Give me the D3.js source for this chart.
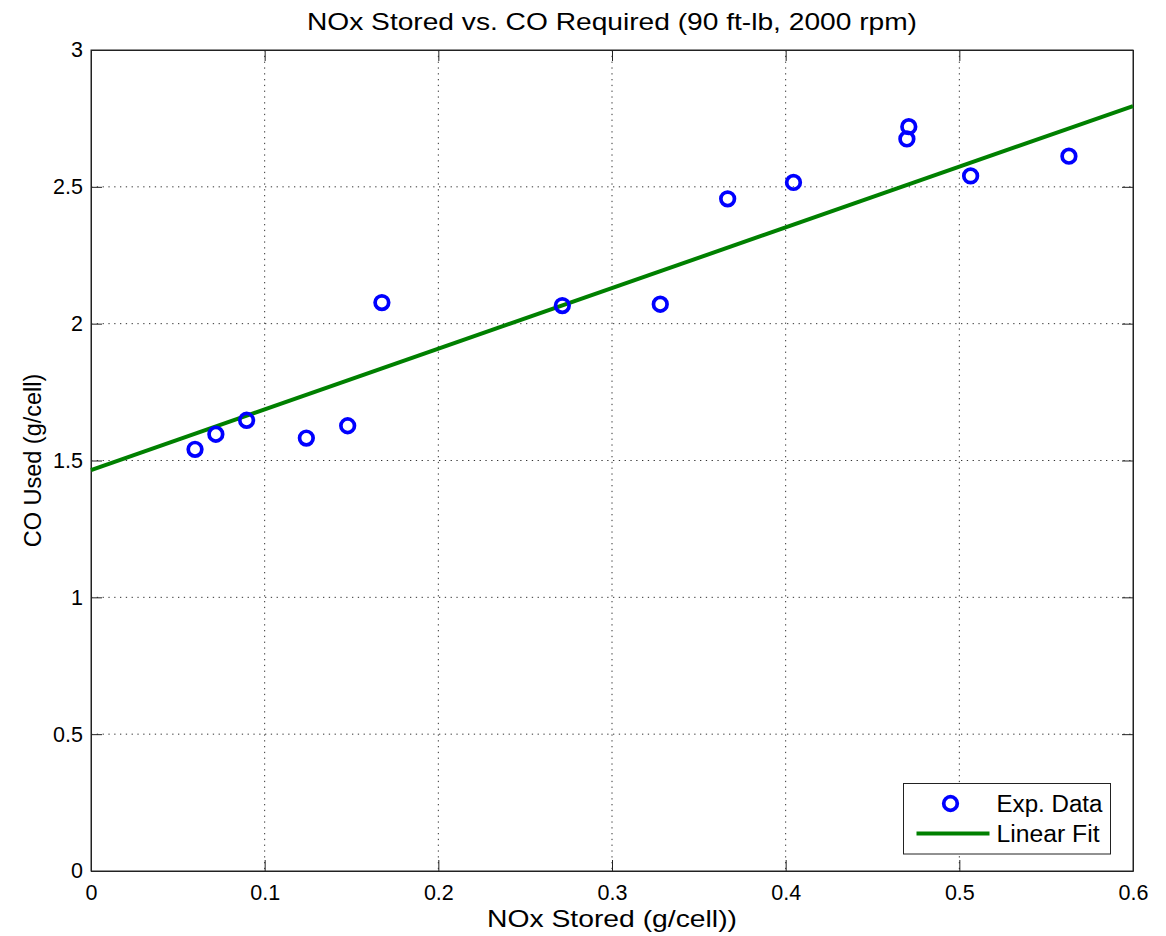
<!DOCTYPE html>
<html>
<head>
<meta charset="utf-8">
<script src="https://cdn.jsdelivr.net/npm/d3@7"></script>
<style>
  body { margin: 0; background: #fff; }
  text { font-family: "Liberation Sans", Arial, sans-serif; fill: #000; }
</style>
</head>
<body>
<div class="chart"></div>
<script>
var svgWidth = 1166;
var svgHeight = 936;

var margin = { top: 50, right: 33, bottom: 65, left: 91 };

var width = svgWidth - margin.left - margin.right;
var height = svgHeight - margin.top - margin.bottom;

// data
var noxStored = [0.0599, 0.0719, 0.0896, 0.1240, 0.1478, 0.1675, 0.2714,
                 0.3278, 0.3666, 0.4045, 0.4698, 0.4709, 0.5065, 0.5631];
var coUsed = [1.541, 1.596, 1.647, 1.582, 1.627, 2.077, 2.066,
              2.071, 2.456, 2.516, 2.675, 2.720, 2.540, 2.612];
// linear fit: CO = intercept + slope * NOx
var fitIntercept = 1.465;
var fitSlope = 2.217;
var fitRange = [0, 0.6];

var xTicks = [0, 0.1, 0.2, 0.3, 0.4, 0.5, 0.6];
var yTicks = [0, 0.5, 1, 1.5, 2, 2.5, 3];

var titleText = "NOx Stored vs. CO Required (90 ft-lb, 2000 rpm)";
var xLabelText = "NOx Stored (g/cell))";
var yLabelText = "CO Used (g/cell)";
var legendLabels = ["Exp. Data", "Linear Fit"];

var svg = d3.select(".chart")
  .append("svg")
  .attr("width", svgWidth)
  .attr("height", svgHeight);

var chartGroup = svg.append("g")
  .attr("transform", `translate(${margin.left}, ${margin.top})`);

var x = d3.scaleLinear().domain([0, 0.6]).range([0, width]);
var y = d3.scaleLinear().domain([0, 3]).range([height, 0]);

// grid lines
chartGroup.append("g")
  .selectAll("line")
  .data(xTicks.slice(1, -1))
  .enter()
  .append("line")
  .attr("x1", d => x(d)).attr("x2", d => x(d))
  .attr("y1", 0).attr("y2", height)
  .attr("stroke", "#333")
  .attr("stroke-width", 1)
  .attr("stroke-dasharray", "1.3,4.5");

chartGroup.append("g")
  .selectAll("line")
  .data(yTicks.slice(1, -1))
  .enter()
  .append("line")
  .attr("y1", d => y(d)).attr("y2", d => y(d))
  .attr("x1", 0).attr("x2", width)
  .attr("stroke", "#333")
  .attr("stroke-width", 1)
  .attr("stroke-dasharray", "1.3,4.5");

// axes, ticks inside like matlab
var bottomAxis = d3.axisBottom(x).tickValues(xTicks).tickSizeInner(-11).tickSizeOuter(0)
  .tickFormat(d3.format("~g")).tickPadding(14);
var leftAxis = d3.axisLeft(y).tickValues(yTicks).tickSizeInner(-11).tickSizeOuter(0)
  .tickFormat(d3.format("~g")).tickPadding(8);
var topAxis = d3.axisTop(x).tickValues(xTicks).tickSizeInner(-11).tickSizeOuter(0).tickFormat("");
var rightAxis = d3.axisRight(y).tickValues(yTicks).tickSizeInner(-11).tickSizeOuter(0).tickFormat("");

var xAxis = chartGroup.append("g")
  .attr("transform", `translate(0, ${height})`)
  .call(bottomAxis);
var yAxis = chartGroup.append("g").call(leftAxis);
chartGroup.append("g").call(topAxis);
chartGroup.append("g").attr("transform", `translate(${width}, 0)`).call(rightAxis);

chartGroup.selectAll(".domain").attr("stroke", "#222");
chartGroup.selectAll(".tick line").attr("stroke", "#222");
chartGroup.selectAll(".tick text")
  .style("font-family", "Liberation Sans, Arial, sans-serif")
  .style("font-size", "21.5px")
  .attr("fill", "#000");

// box
chartGroup.append("rect")
  .attr("x", 0).attr("y", 0)
  .attr("width", width).attr("height", height)
  .attr("fill", "none")
  .attr("stroke", "#222")
  .attr("stroke-width", 1);

// fit line
var fitLine = d3.line()
  .x(d => x(d))
  .y(d => y(fitIntercept + fitSlope * d));

chartGroup.append("path")
  .datum(fitRange)
  .attr("d", fitLine)
  .attr("fill", "none")
  .attr("stroke", "#008000")
  .attr("stroke-width", 4);

// data points
var circlesGroup = chartGroup.selectAll(".pt")
  .data(noxStored)
  .enter()
  .append("circle")
  .attr("class", "pt")
  .attr("cx", d => x(d))
  .attr("cy", (d, i) => y(coUsed[i]))
  .attr("r", 6.8)
  .attr("fill", "none")
  .attr("stroke", "#0000ff")
  .attr("stroke-width", 3.7);

// title + axis labels
svg.append("text")
  .attr("x", margin.left + width / 2)
  .attr("y", 30)
  .attr("text-anchor", "middle")
  .attr("textLength", 610)
  .attr("lengthAdjust", "spacingAndGlyphs")
  .style("font-size", "24px")
  .text(titleText);

svg.append("text")
  .attr("x", margin.left + width / 2)
  .attr("y", 927)
  .attr("text-anchor", "middle")
  .attr("textLength", 250)
  .attr("lengthAdjust", "spacingAndGlyphs")
  .style("font-size", "24px")
  .text(xLabelText);

svg.append("text")
  .attr("transform", "rotate(-90)")
  .attr("x", -(margin.top + height / 2))
  .attr("y", 41)
  .attr("text-anchor", "middle")
  .style("font-size", "23.5px")
  .text(yLabelText);

// legend
var legend = svg.append("g").attr("transform", "translate(903.5, 783.5)");
legend.append("rect")
  .attr("width", 207).attr("height", 70.5)
  .attr("fill", "#fff")
  .attr("stroke", "#222")
  .attr("stroke-width", 1);
legend.append("circle")
  .attr("cx", 47).attr("cy", 20)
  .attr("r", 6.8)
  .attr("fill", "none")
  .attr("stroke", "#0000ff")
  .attr("stroke-width", 3.7);
legend.append("line")
  .attr("x1", 13).attr("x2", 86)
  .attr("y1", 50).attr("y2", 50)
  .attr("stroke", "#008000")
  .attr("stroke-width", 4);
legend.selectAll(".lbl")
  .data(legendLabels)
  .enter()
  .append("text")
  .attr("class", "lbl")
  .attr("x", 93)
  .attr("y", (d, i) => 28.5 + i * 30)
  .attr("textLength", (d, i) => i === 0 ? 106 : 103)
  .attr("lengthAdjust", "spacingAndGlyphs")
  .style("font-size", "23.5px")
  .text(d => d);
</script>
</body>
</html>
